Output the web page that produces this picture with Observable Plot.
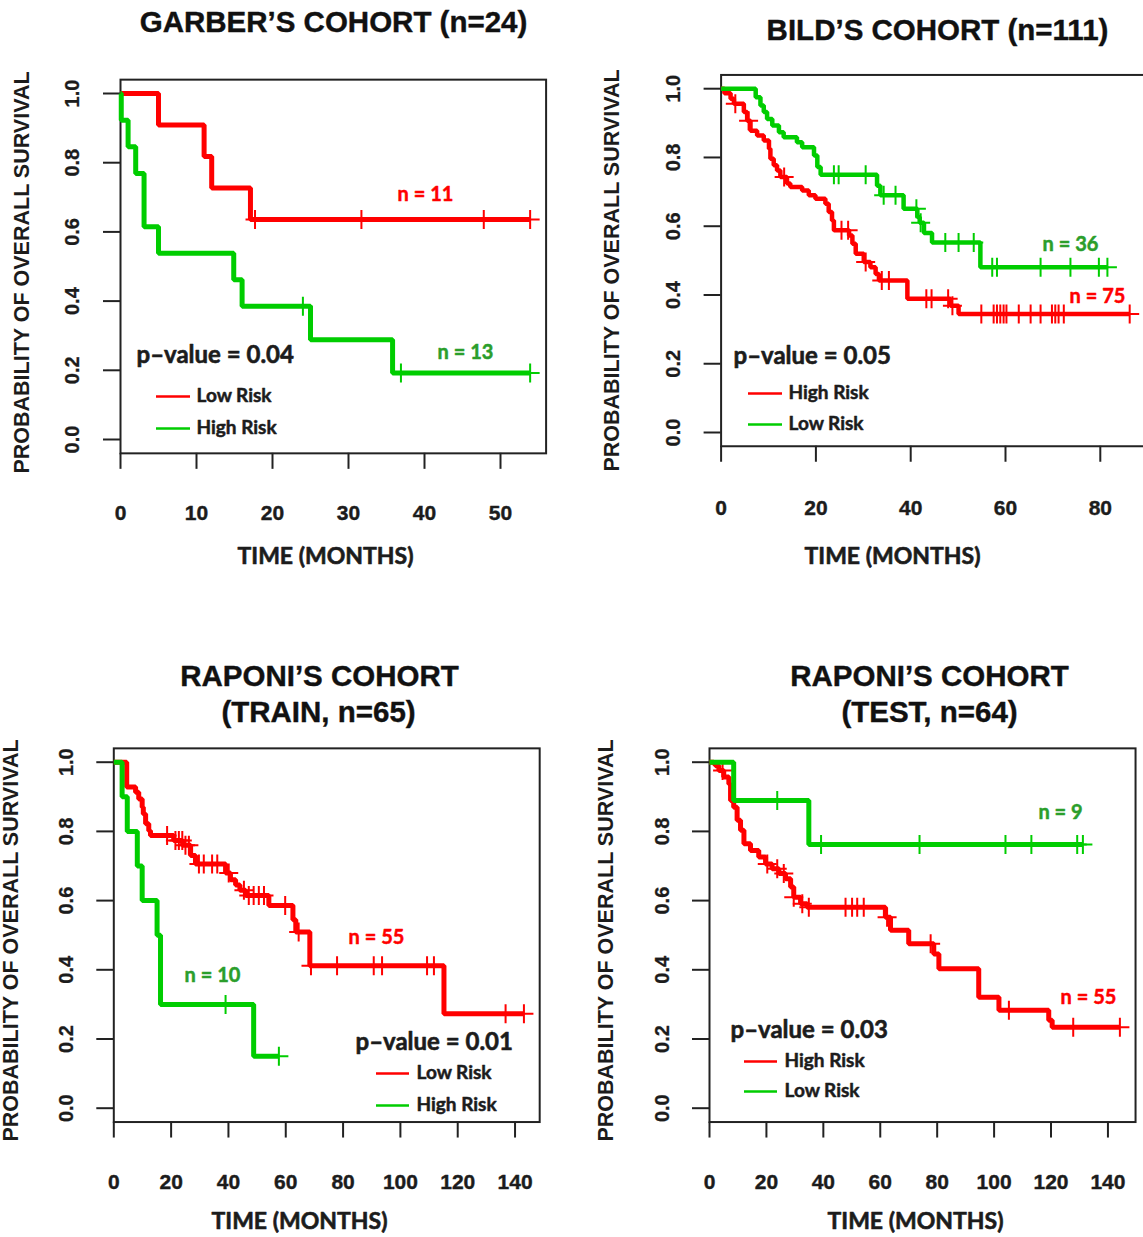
<!DOCTYPE html>
<html><head><meta charset="utf-8">
<script src="https://cdn.jsdelivr.net/npm/d3@7"></script>
<script src="https://cdn.jsdelivr.net/npm/@observablehq/plot@0.6"></script>
<style>
html,body{margin:0;padding:0;background:#fff;overflow:hidden;width:1143px;height:1237px}
#root{position:relative;width:1143px;height:1237px;overflow:hidden;background:#fff}
</style></head><body><div id="root"></div>
<script>
// ---------- tick labels ----------
const yTicks = [0, 0.2, 0.4, 0.6, 0.8, 1.0];
const garberXTicks = [0, 10, 20, 30, 40, 50];
const bildXTicks = [0, 20, 40, 60, 80];
const raponiXTicks = [0, 20, 40, 60, 80, 100, 120, 140];

// ---------- Garber's cohort (n=24) ----------
const garberLowT = [5, 11, 12, 17.1];
const garberLowS = [0.909, 0.818, 0.727, 0.636];
const garberLowCens = [17.7, 31.7, 47.8, 53.9];
const garberHighT = [0.1, 1, 2, 3.1, 5, 14.9, 16, 25, 35.8];
const garberHighS = [0.923, 0.846, 0.769, 0.615, 0.538, 0.462, 0.385, 0.288, 0.192];
const garberHighCens = [24, 36.9, 53.9];

// ---------- Bild's cohort (n=111) ----------
const bildHighT = [0.7, 2.0, 2.7, 4.8, 5.5, 6.2, 7.6, 9.0, 10.1, 10.4, 11.1, 11.8, 12.5, 13.9, 14.6, 17.1, 18.5, 19.9, 22.0, 22.7, 23.4, 23.8, 27.0, 27.7, 28.4, 30.1, 31.5, 32.6, 33.3, 39.3, 48.4, 50.1];
const bildHighS = [0.987, 0.971, 0.956, 0.932, 0.907, 0.878, 0.864, 0.849, 0.825, 0.796, 0.777, 0.762, 0.743, 0.724, 0.714, 0.704, 0.690, 0.680, 0.665, 0.641, 0.617, 0.588, 0.573, 0.549, 0.520, 0.496, 0.481, 0.461, 0.442, 0.389, 0.369, 0.345];
const bildHighCens = [3.0, 5.8, 13.3, 25.4, 26.8, 30.5, 33.9, 35.4, 43.3, 44.4, 47.9, 48.8, 54.9, 57.5, 58.2, 58.9, 59.6, 60.2, 62.8, 65.3, 67.4, 69.8, 70.5, 71.2, 72.3, 86.2];
const bildLowT = [7.3, 8.3, 9.0, 9.7, 10.8, 12.2, 13.2, 16.0, 17.1, 19.6, 20.3, 21.0, 32.9, 33.6, 38.5, 41.4, 41.9, 42.8, 44.5, 54.7];
const bildLowS = [0.975, 0.951, 0.932, 0.912, 0.893, 0.873, 0.859, 0.844, 0.830, 0.806, 0.772, 0.750, 0.718, 0.690, 0.651, 0.627, 0.610, 0.580, 0.553, 0.481];
const bildLowCens = [23.8, 24.8, 30.5, 34.3, 36.8, 41.2, 42.1, 47.3, 50.1, 53.3, 57.2, 58.2, 67.4, 73.7, 79.7, 81.5];

// ---------- Raponi's cohort (train, n=65) ----------
const trainLowT = [4.5, 7.6, 8.7, 9.9, 10.3, 11.1, 12.2, 12.8, 20.9, 24.0, 26.8, 28.5, 39.0, 40.7, 42.5, 44.0, 46.0, 54.1, 62.5, 63.5, 68.4, 115.2];
const trainLowS = [0.928, 0.913, 0.894, 0.870, 0.850, 0.822, 0.802, 0.788, 0.774, 0.760, 0.730, 0.706, 0.680, 0.660, 0.645, 0.630, 0.615, 0.586, 0.545, 0.509, 0.412, 0.273];
const trainLowCens = [18.6, 21.5, 22.7, 23.9, 25.0, 26.2, 29.7, 31.4, 34.3, 36.1, 40.1, 45.4, 47.1, 48.8, 50.6, 52.4, 59.8, 64.5, 68.8, 77.9, 90.7, 93.6, 109.3, 111.7, 136.7, 143.1];
const trainHighT = [2.9, 4.7, 8.2, 9.9, 15.1, 16.3, 48.8];
const trainHighS = [0.9, 0.8, 0.7, 0.6, 0.5, 0.3, 0.15];
const trainHighCens = [39.0, 57.6];

// ---------- Raponi's cohort (test, n=64) ----------
const testHighT = [1.5, 2.1, 3.3, 5.0, 6.8, 7.4, 8.5, 9.7, 10.9, 12.1, 14.4, 17.3, 19.7, 22.0, 24.4, 26.7, 28.5, 29.6, 32.0, 34.3, 61.8, 63.6, 70.0, 78.8, 80.6, 94.6, 101.7, 119.2, 120.4];
const testHighS = [0.995, 0.990, 0.976, 0.957, 0.937, 0.889, 0.870, 0.832, 0.803, 0.764, 0.745, 0.726, 0.706, 0.692, 0.678, 0.663, 0.639, 0.610, 0.591, 0.581, 0.552, 0.514, 0.475, 0.446, 0.403, 0.321, 0.283, 0.254, 0.234];
const testHighCens = [4.6, 20.3, 23.8, 26.1, 29.6, 32.6, 34.9, 47.8, 50.1, 51.9, 54.2, 62.4, 77.7, 105.2, 127.8, 144.2];
const testLowT = [8.5, 34.9];
const testLowS = [0.889, 0.762];
const testLowCens = [23.8, 39.2, 73.8, 104.0, 113.1, 129.2, 131.2];

// ---------- styling ----------
const W = 1143, H = 1237;
const RED = "#ff0000", GREEN = "#00cd00", GREEN_TXT = "#2b9e2b", INK = "#1c1c1c";
const SANS = "'Liberation Sans', Arial, sans-serif";
const CAL = "Lato, 'Open Sans', sans-serif";

const plusSymbol = {
  draw(ctx, size) {
    const r = Math.sqrt(size / Math.PI);
    ctx.moveTo(-r, 0); ctx.lineTo(r, 0);
    ctx.moveTo(0, -r); ctx.lineTo(0, r);
  }
};

function kmPoints(times, surv, end) {
  const pts = [{t: 0, s: 1}];
  times.forEach((t, i) => pts.push({t, s: surv[i]}));
  pts.push({t: end, s: surv[surv.length - 1]});
  return pts;
}
function survAt(times, surv, t) {
  let s = 1;
  for (let i = 0; i < times.length; i++) if (times[i] <= t) s = surv[i];
  return s;
}

const panels = [
  {
    x0: 120, ppu: 7.6, xmax: 56, y1: 93, y0: 439, xTicks: garberXTicks,
    yLabelX: 72, xLabelY: 513, lw: 5,
    titles: [["GARBER’S COHORT (n=24)", 333, 22]],
    xTitle: [325, 556], yTitle: [22, 272],
    series: [
      {t: garberLowT, s: garberLowS, c: garberLowCens, color: RED},
      {t: garberHighT, s: garberHighS, c: garberHighCens, color: GREEN}
    ],
    pval: ["p–value = 0.04", 136, 355],
    legend: {x1: 156, x2: 190, tx: 196, items: [["Low Risk", RED, 396], ["High Risk", GREEN, 428]]},
    nLabels: [["n = 11", 425, 194, RED], ["n = 13", 465, 352, GREEN_TXT]]
  },
  {
    x0: 720.6, ppu: 4.74, xmax: 89.6, y1: 88.2, y0: 432, xTicks: bildXTicks,
    yLabelX: 673, xLabelY: 508, lw: 4.5,
    titles: [["BILD’S COHORT (n=111)", 937, 30]],
    xTitle: [892, 556], yTitle: [612, 270],
    series: [
      {t: bildHighT, s: bildHighS, c: bildHighCens, color: RED},
      {t: bildLowT, s: bildLowS, c: bildLowCens, color: GREEN}
    ],
    pval: ["p–value = 0.05", 733, 356],
    legend: {x1: 748, x2: 782, tx: 788, items: [["High Risk", RED, 393], ["Low Risk", GREEN, 424]]},
    nLabels: [["n = 36", 1070, 244, GREEN_TXT], ["n = 75", 1097, 296, RED]]
  },
  {
    x0: 113.3, ppu: 2.866, xmax: 148.6, y1: 761.7, y0: 1107.7, xTicks: raponiXTicks,
    yLabelX: 66, xLabelY: 1182, lw: 5,
    titles: [["RAPONI’S COHORT", 319, 676], ["(TRAIN, n=65)", 318, 712]],
    xTitle: [299, 1221], yTitle: [11, 940],
    series: [
      {t: trainLowT, s: trainLowS, c: trainLowCens, color: RED},
      {t: trainHighT, s: trainHighS, c: trainHighCens, color: GREEN}
    ],
    pval: ["p–value = 0.01", 355, 1042],
    legend: {x1: 376, x2: 409, tx: 416, items: [["Low Risk", RED, 1073], ["High Risk", GREEN, 1105]]},
    nLabels: [["n = 55", 376, 937, RED], ["n = 10", 212, 975, GREEN_TXT]]
  },
  {
    x0: 709, ppu: 2.846, xmax: 149.7, y1: 761.7, y0: 1107.7, xTicks: raponiXTicks,
    yLabelX: 662, xLabelY: 1182, lw: 5,
    titles: [["RAPONI’S COHORT", 929, 676], ["(TEST, n=64)", 929, 712]],
    xTitle: [915, 1221], yTitle: [606, 940],
    series: [
      {t: testHighT, s: testHighS, c: testHighCens, color: RED},
      {t: testLowT, s: testLowS, c: testLowCens, color: GREEN}
    ],
    pval: ["p–value = 0.03", 730, 1030],
    legend: {x1: 744, x2: 777, tx: 784, items: [["High Risk", RED, 1061], ["Low Risk", GREEN, 1091]]},
    nLabels: [["n = 9", 1060, 812, GREEN_TXT], ["n = 55", 1088, 997, RED]]
  }
];

const root = document.getElementById("root");

for (const p of panels) {
  const unit = p.y0 - p.y1;
  const top = p.y1 - 0.04 * unit;
  const bottom = p.y0 + 0.04 * unit;
  const right = p.x0 + p.xmax * p.ppu;
  const mL = p.x0, mT = top, mR = W - right, mB = H - bottom;
  const invX = px => (px - p.x0) / p.ppu;
  const invY = py => (p.y0 - py) / unit;
  const at = (str, px, py, opts) => Plot.text([str], {
    text: d => d, frameAnchor: "top-left", dx: px - mL, dy: py - mT, lineAnchor: "middle", ...opts
  });

  const marks = [
    Plot.frame({stroke: "#222", strokeWidth: 2}),
    Plot.axisX({ticks: p.xTicks, tickSize: 16, tickFormat: () => "", label: null, stroke: "#222", strokeWidth: 2}),
    Plot.axisY({ticks: yTicks, tickSize: 17, tickFormat: () => "", label: null, stroke: "#222", strokeWidth: 2}),
    Plot.text(p.xTicks, {x: d => d, text: d => String(d), frameAnchor: "bottom", dy: p.xLabelY - bottom,
      lineAnchor: "middle", fontSize: 21, fontWeight: "bold", fontFamily: SANS, fill: INK, stroke: INK, strokeWidth: 0.4}),
    Plot.text(yTicks, {y: d => d, text: d => d.toFixed(1), frameAnchor: "left", dx: p.yLabelX - p.x0,
      rotate: -90, lineAnchor: "middle", textAnchor: "middle", fontSize: 20, fontWeight: "bold", fontFamily: SANS, fill: INK, stroke: INK, strokeWidth: 0.3})
  ];

  for (const s of p.series) {
    const end = Math.max(s.c[s.c.length - 1], s.t[s.t.length - 1]);
    marks.push(Plot.line(kmPoints(s.t, s.s, end), {x: "t", y: "s", curve: "step-after", stroke: s.color,
      strokeWidth: p.lw, strokeLinejoin: "miter", strokeLinecap: "butt"}));
    marks.push(Plot.dot(s.c, {x: d => d, y: d => survAt(s.t, s.s, d), symbol: plusSymbol, r: 9.5,
      stroke: s.color, strokeWidth: 2, fill: "none"}));
  }

  // legend
  for (const [label, color, ly] of p.legend.items) {
    marks.push(Plot.ruleY([invY(ly)], {y: d => d, x1: invX(p.legend.x1), x2: invX(p.legend.x2), stroke: color, strokeWidth: 2.5}));
    marks.push(at(label, p.legend.tx, ly - 1, {textAnchor: "start", fontSize: 19, fontWeight: "bold", fontFamily: CAL, fill: INK, stroke: INK, strokeWidth: 0.5}));
  }
  marks.push(at(p.pval[0], p.pval[1], p.pval[2], {textAnchor: "start", fontSize: 24, fontWeight: "bold", fontFamily: CAL, fill: INK, stroke: INK, strokeWidth: 0.6}));
  for (const [label, cx, cy, color] of p.nLabels) {
    marks.push(at(label, cx, cy, {textAnchor: "middle", fontSize: 20, fontWeight: "bold", fontFamily: CAL, fill: color, stroke: color, strokeWidth: 0.5}));
  }
  // titles
  for (const [label, cx, cy] of p.titles) {
    marks.push(at(label, cx, cy, {textAnchor: "middle", fontSize: 29.5, fontWeight: "bold", fontFamily: SANS, fill: "#111", stroke: "#111", strokeWidth: 0.4}));
  }
  marks.push(at("TIME (MONTHS)", p.xTitle[0], p.xTitle[1], {textAnchor: "middle", fontSize: 23, fontWeight: "bold", fontFamily: CAL, fill: INK, stroke: INK, strokeWidth: 0.6}));
  marks.push(at("PROBABILITY OF OVERALL SURVIVAL", p.yTitle[0], p.yTitle[1], {textAnchor: "middle", rotate: -90, fontSize: 21.5, fontWeight: "bold", fontFamily: SANS, fill: INK}));

  const svg = Plot.plot({
    width: W, height: H,
    marginLeft: mL, marginRight: mR, marginTop: mT, marginBottom: mB,
    x: {domain: [0, p.xmax]},
    y: {domain: [-0.04, 1.04]},
    style: {position: "absolute", left: "0px", top: "0px", background: "transparent", maxWidth: "none", overflow: "hidden"},
    marks
  });
  root.appendChild(svg);
}
</script>
</body></html>
